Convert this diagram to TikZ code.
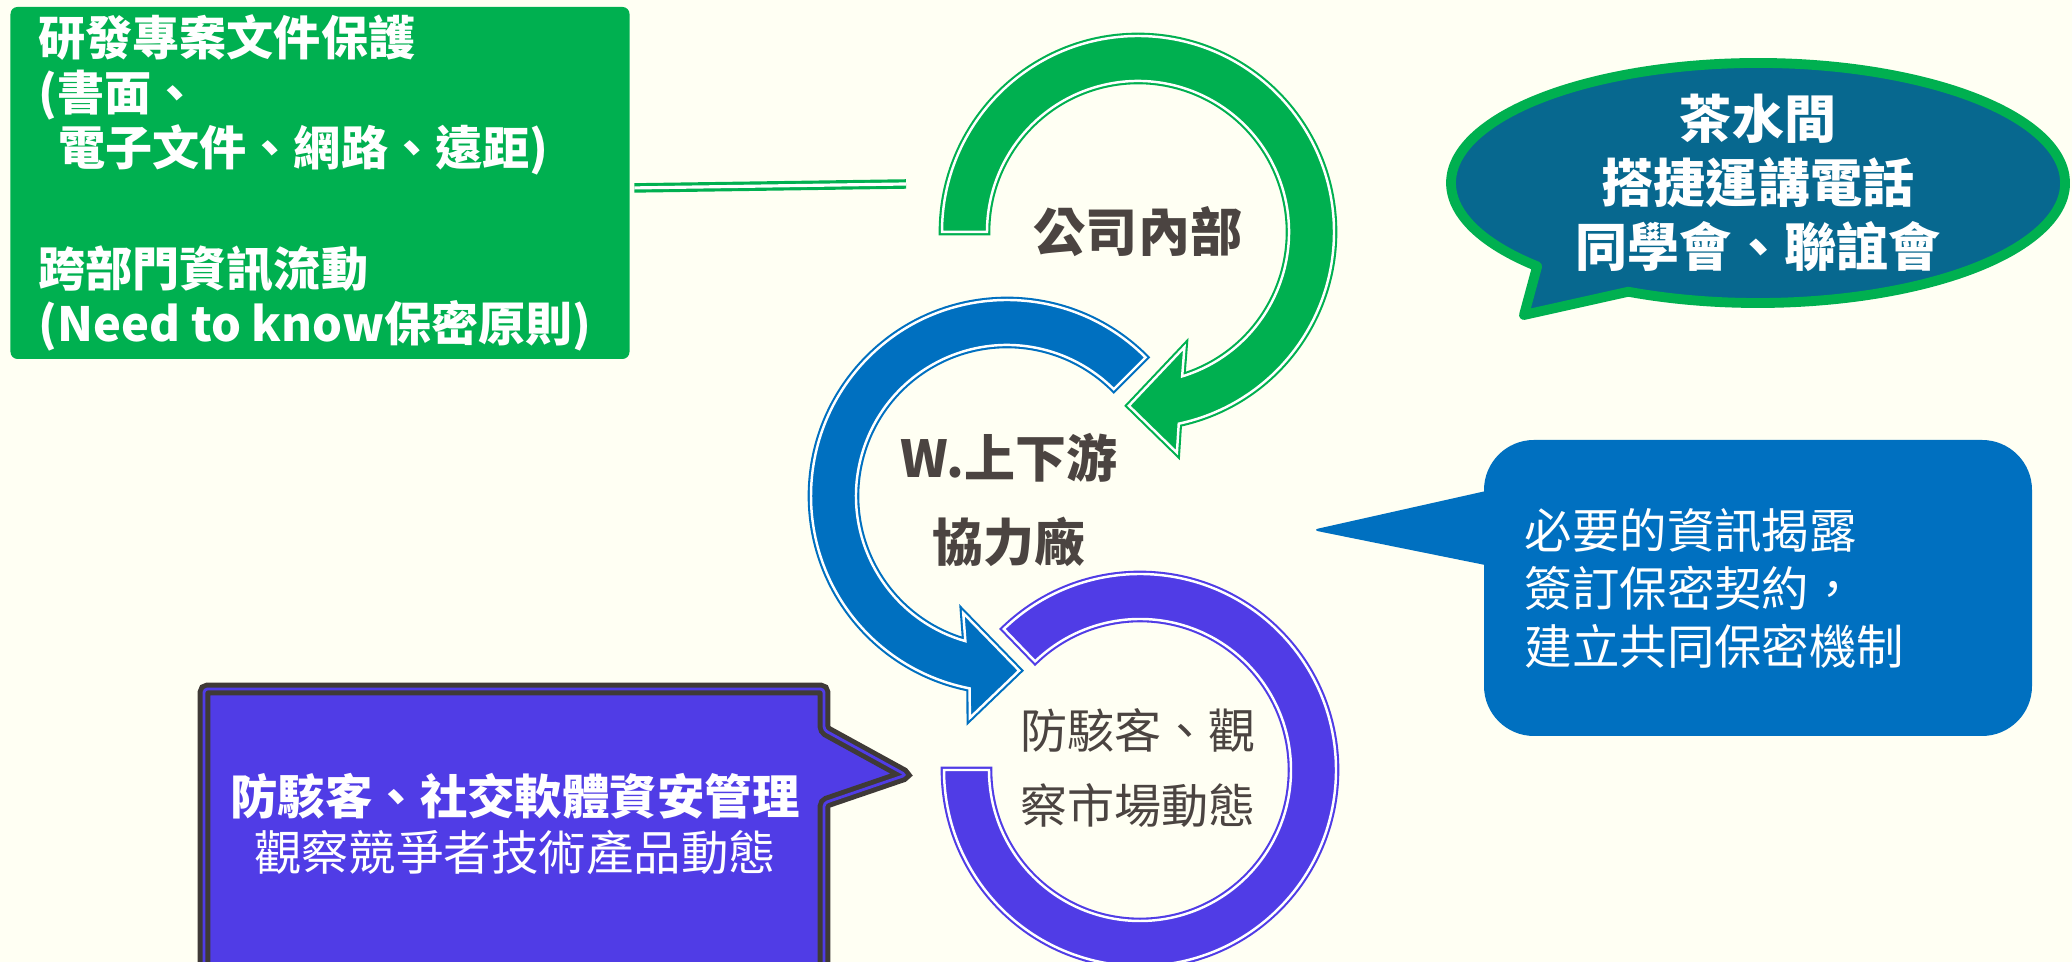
\documentclass[tikz,border=0pt]{standalone}
\usepackage{fontspec}
\setmainfont{Noto Sans CJK TC}
\definecolor{bgcream}{HTML}{FFFFF3}
\definecolor{offgreen}{HTML}{00B050}
\definecolor{offblue}{HTML}{0070C0}
\definecolor{offpurple}{HTML}{503CE6}
\definecolor{deepteal}{HTML}{07688F}
\definecolor{inkgray}{HTML}{4B4441}
\definecolor{boxdark}{HTML}{3F3A37}
\begin{document}
\begin{tikzpicture}[
    ring/.style={line width=0.6pt,double=white,double distance=0.7pt},
    ringtext/.style={text=inkgray,align=center,inner sep=0pt},
    calltext/.style={text=white,inner sep=0pt}]
    \fill[bgcream](0,0)rectangle(20.72,9.62);
    \useasboundingbox(0,0)rectangle(20.72,9.62);
    \node[fill=offgreen,rounded corners=2pt,minimum width=6.19cm,minimum height=3.52cm](rdbox)at(3.2,7.79){};
    \node[calltext,anchor=west,align=left,font=\bfseries\fontsize{13.4}{15.6}\selectfont](rdtext)at([xshift=0.28cm]rdbox.west)
        {研發專案文件保護\\(書面、\\\hspace*{0.2cm}電子文件、網路、遠距)\\[18.8pt]跨部門資訊流動\\(Need to know保密原則)};
    \coordinate(rdlink)at(9.06,7.78);
    \draw[offgreen,line width=0.9pt,double=white,double distance=0.9pt,shorten <=1.2pt]([yshift=-0.05cm]rdbox.east)--(rdlink);
    \draw[ring,draw=offpurple,fill=offpurple,shift={(11.40,1.92)}](134:1.96)arc[start angle=134,end angle=-180,radius=1.96cm]
        --(180:1.51)arc[start angle=-180,end angle=134,radius=1.51cm]--cycle;
    \draw[ring,draw=offblue,fill=offblue,shift={(10.07,4.66)}](45:1.96)arc[start angle=45,end angle=259,radius=1.96cm]
        --(260.5:2.25)--(274:1.75)--(249.5:1.25)--(254:1.51)arc[start angle=254,end angle=45,radius=1.51cm]--cycle;
    \draw[ring,draw=offgreen,fill=offgreen,shift={(11.38,7.30)}](180:1.96)arc[start angle=180,end angle=-78,radius=1.96cm]
        --(-80:2.24)--(-93:1.74)--(-68:1.24)--(-73:1.51)arc[start angle=-73,end angle=180,radius=1.51cm]--cycle;
    \node[ringtext,font=\bfseries\fontsize{14.8}{17}\selectfont](inhouse)at(11.38,7.30){公司內部};
    \node[ringtext,font=\bfseries\fontsize{14.5}{23.9}\selectfont](partners)at(10.09,4.62){W.上下游\\協力廠};
    \node[ringtext,font=\fontsize{13.4}{21.6}\selectfont](market)at(11.38,1.94){防駭客、觀\\察市場動態};
    \draw[offgreen,line width=2.8pt,line join=round,fill=deepteal,shift={(17.58,7.79)}](245:3.07 and 1.20)
        arc[start angle=245,end angle=584,x radius=3.07cm,y radius=1.20cm]--(-2.34,-1.32)--cycle;
    \node[calltext,align=center,font=\bfseries\fontsize{14.8}{18.3}\selectfont](teatalk)at(17.58,7.79){茶水間\\搭捷運講電話\\同學會、聯誼會};
    \fill[offblue,rounded corners=2pt](14.95,4.73)--(13.12,4.32)--(14.95,3.95)--cycle;
    \node[fill=offblue,rounded corners=0.5cm,minimum width=5.48cm,minimum height=2.96cm](infobox)at(17.58,3.74){};
    \node[calltext,anchor=west,align=left,font=\fontsize{13.5}{16.5}\selectfont](infotext)at(15.24,3.74){必要的資訊揭露\\簽訂保密契約，\\建立共同保密機制};
    \draw[boxdark,line width=1.4pt,double=offpurple,double distance=0.8pt,fill=offpurple,rounded corners=1pt]
        (2.04,-0.3)--(2.04,2.73)--(8.24,2.73)--(8.24,2.32)--(9.06,1.87)--(8.24,1.59)--(8.24,-0.3)--cycle;
    \node[calltext,align=center,font=\fontsize{13.5}{15.9}\selectfont](hackmgmt)at(5.15,1.38){\textbf{防駭客、社交軟體資安管理}\\觀察競爭者技術產品動態};
\end{tikzpicture}
\end{document}
